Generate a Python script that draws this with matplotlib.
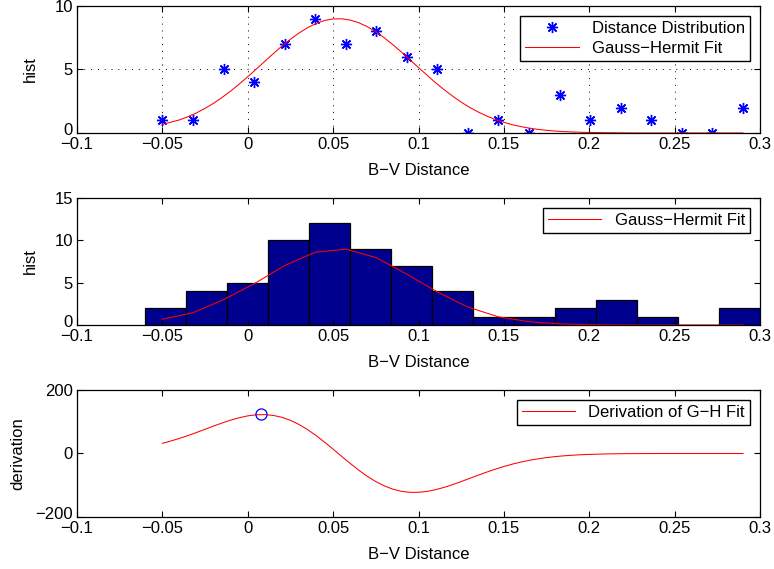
import numpy as np
import matplotlib
matplotlib.use("Agg")
import matplotlib.pyplot as plt
from matplotlib.transforms import ScaledTranslation

plt.rcParams['font.family'] = ['Liberation Sans', 'DejaVu Sans']
plt.rcParams['font.size'] = 12

# 上图：分布点（bin 中心与计数）
bin_centers = [-0.05, -0.0321, -0.0142, 0.0037, 0.0216, 0.0395, 0.0574, 0.0753,
               0.0932, 0.1111, 0.1289, 0.1468, 0.1647, 0.1826, 0.2005, 0.2184,
               0.2363, 0.2542, 0.2721, 0.29]
counts = [1, 1, 5, 4, 7, 9, 7, 8, 6, 5, 0, 1, 0, 3, 1, 2, 1, 0, 0, 2]

# Gauss-Hermite 拟合曲线（读图取值）
fit_x = [-0.05, -0.045, -0.04, -0.035, -0.03, -0.025, -0.02, -0.015, -0.01, -0.005,
         0.0, 0.005, 0.01, 0.015, 0.02, 0.025, 0.03, 0.035, 0.04, 0.045,
         0.05, 0.055, 0.06, 0.065, 0.07, 0.075, 0.08, 0.085, 0.09, 0.095,
         0.10, 0.105, 0.11, 0.115, 0.12, 0.125, 0.13, 0.135, 0.14, 0.145,
         0.15, 0.155, 0.16, 0.165, 0.17, 0.175, 0.18, 0.185, 0.19, 0.195,
         0.20, 0.21, 0.22, 0.23, 0.24, 0.25, 0.26, 0.27, 0.28, 0.29]
fit_y = [0.68, 0.85, 1.03, 1.28, 1.58, 1.94, 2.34, 2.80, 3.30, 3.85,
         4.43, 5.03, 5.64, 6.25, 6.84, 7.38, 7.87, 8.29, 8.62, 8.86,
         8.98, 8.99, 8.89, 8.68, 8.37, 7.97, 7.49, 6.95, 6.37, 5.76,
         5.15, 4.55, 3.96, 3.41, 2.90, 2.43, 2.01, 1.65, 1.33, 1.06,
         0.84, 0.65, 0.50, 0.38, 0.28, 0.21, 0.15, 0.11, 0.08, 0.055,
         0.04, 0.02, 0.01, 0.0, 0.0, 0.0, 0.0, 0.0, 0.0, 0.0]

# 中图：直方图
hist_edges = [-0.06, -0.036, -0.012, 0.012, 0.036, 0.06, 0.084, 0.108, 0.132,
              0.156, 0.18, 0.204, 0.228, 0.252, 0.276, 0.3]
hist_counts = [2, 4, 5, 10, 12, 9, 7, 4, 1, 1, 2, 3, 1, 0, 2]
fit_at_centers = [0.68, 1.45, 3.0, 4.87, 7.02, 8.6, 8.96, 7.95, 6.0, 3.9,
                  2.12, 0.97, 0.39, 0.13, 0.04, 0.01, 0.0, 0.0, 0.0, 0.0]

# 下图：拟合导数
deriv_y = [32.1, 39.4, 47.6, 56.6, 66.2, 76.3, 86.4, 96.2, 105.1, 112.7,
           118.5, 121.9, 122.5, 119.9, 114.0, 104.4, 91.5, 75.4, 56.6, 35.8,
           13.6, -9.1, -31.4, -52.6, -71.9, -88.5, -102.1, -112.3, -119.1, -122.3,
           -122.2, -119.4, -114.0, -106.7, -98.1, -88.4, -78.4, -68.2, -58.5, -49.3,
           -41.0, -33.5, -27.0, -21.4, -16.8, -12.9, -9.8, -7.4, -5.4, -4.0,
           -2.9, -1.4, -0.6, -0.3, 0.0, 0.0, 0.0, 0.0, 0.0, 0.0]
peak_x = 0.008
peak_y = 123

xticks = [-0.1, -0.05, 0, 0.05, 0.1, 0.15, 0.2, 0.25, 0.3]
xtick_labels = ['\u22120.1', '\u22120.05', '0', '0.05', '0.1', '0.15', '0.2', '0.25', '0.3']


def style_axes(ax, yticks, ylabels):
    ax.set_xlim(-0.1, 0.3)
    ax.set_xticks(xticks)
    ax.set_xticklabels(xtick_labels)
    ax.set_yticks(yticks)
    ax.set_yticklabels(ylabels)
    ax.tick_params(direction='in', top=True, right=True, length=4, width=0.8, pad=3)
    for s in ax.spines.values():
        s.set_linewidth(0.9)
    ax.set_xlabel('B\u2212V Distance', labelpad=8)
    # 最下面的 y 刻度标签稍微上移，避免与 x 刻度标签重叠
    lbl = ax.yaxis.get_major_ticks()[0].label1
    lbl.set_transform(lbl.get_transform() + ScaledTranslation(0, 4 / 100, fig.dpi_scale_trans))


def legend(ax, handles=None, labels=None):
    if handles is None:
        handles, labels = ax.get_legend_handles_labels()
    leg = ax.legend(handles, labels, loc='upper right', fancybox=False,
                    edgecolor='black', framealpha=1, borderaxespad=0.6,
                    handlelength=3.2, borderpad=0.3, labelspacing=0.3)
    leg.get_frame().set_linewidth(1.0)


fig = plt.figure(figsize=(7.74, 5.69), dpi=100)
L, W, H = 0.0995, 0.8824, 0.2232

# 上图
ax1 = fig.add_axes([L, 0.7663, W, H])
ax1.plot(bin_centers, counts, linestyle='none', marker=(8, 2, 0), color='blue',
         markersize=8, markeredgewidth=1.0, label='Distance Distribution')
ax1.plot(fit_x, fit_y, color='red', linewidth=0.75, label='Gauss\u2212Hermit Fit')
ax1.set_ylim(0, 10)
style_axes(ax1, [0, 5, 10], ['0', '5', '10'])
ax1.grid(True, color='black', linestyle=(0, (1, 6)), linewidth=0.7)
ax1.set_ylabel('hist', labelpad=12)
legend(ax1)

# 中图
ax2 = fig.add_axes([L, 0.4288, W, H])
ax2.bar(hist_edges[:-1], hist_counts, width=np.diff(hist_edges), align='edge',
        color=(0, 0, 0.5625), edgecolor='black', linewidth=0.9)
ax2.plot(bin_centers, fit_at_centers, color='red', linewidth=0.75, label='Gauss\u2212Hermit Fit')
ax2.set_ylim(0, 15)
style_axes(ax2, [0, 5, 10, 15], ['0', '5', '10', '15'])
ax2.set_ylabel('hist', labelpad=12)
legend(ax2)

# 下图
ax3 = fig.add_axes([L, 0.0914, W, H])
line, = ax3.plot(fit_x, deriv_y, color='red', linewidth=0.75, label='Derivation of G\u2212H Fit')
ax3.plot([peak_x], [peak_y], linestyle='none', marker='o', markersize=8,
         markerfacecolor='none', markeredgecolor='blue', markeredgewidth=0.9)
ax3.set_ylim(-200, 200)
style_axes(ax3, [-200, 0, 200], ['\u2212200', '0', '200'])
ax3.set_ylabel('derivation', labelpad=7)
legend(ax3, [line], [line.get_label()])

fig.savefig('out.png', dpi=100)
